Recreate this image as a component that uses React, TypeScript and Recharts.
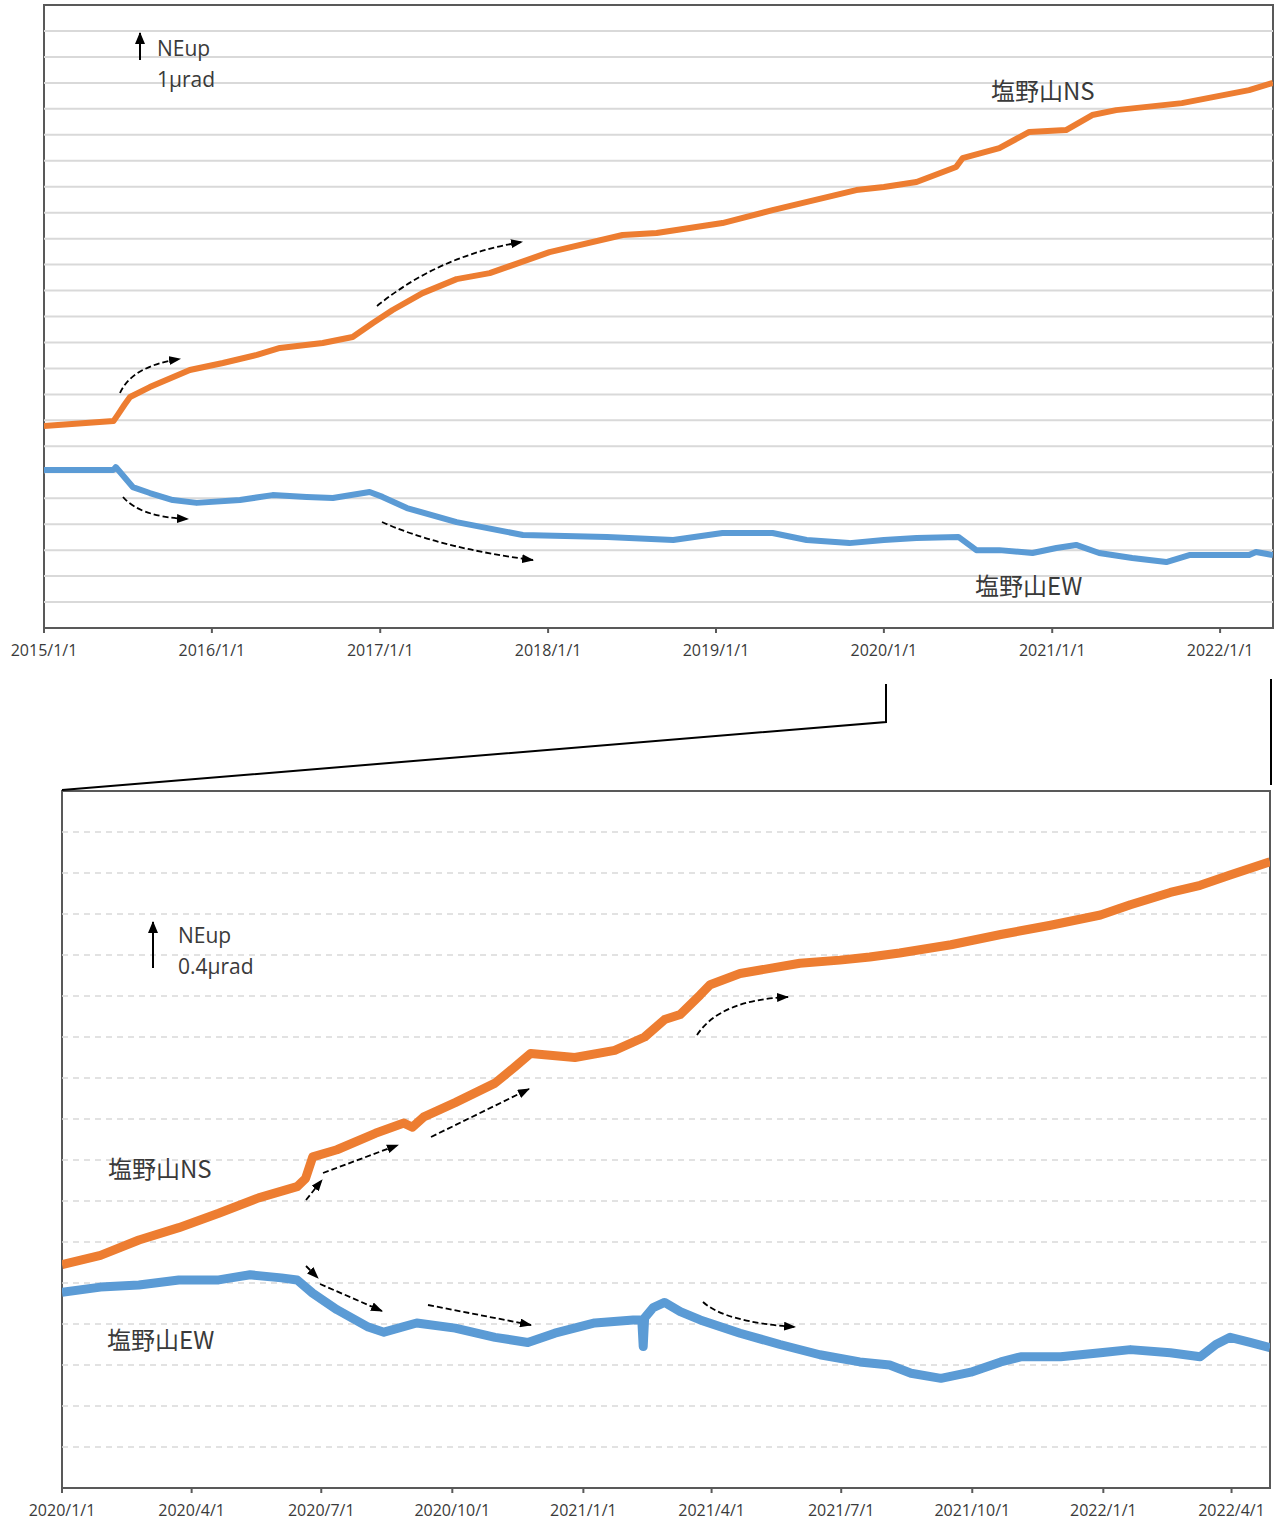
import { Line, LineChart, ReferenceArea, ReferenceLine, XAxis, YAxis } from 'recharts'

// 上段: 2015/1/1 〜 2022/4 (単位 μrad, 1目盛 = 1μrad)
const topNsDates = [
  '2015-01-01', '2015-06-01', '2015-06-10', '2015-06-25', '2015-07-07', '2015-08-19',
  '2015-11-14', '2016-01-25', '2016-04-08', '2016-05-28', '2016-08-29', '2016-11-02',
  '2016-12-16', '2017-01-28', '2017-04-03', '2017-06-16', '2017-08-27', '2018-01-04',
  '2018-06-12', '2018-08-25', '2019-01-15', '2019-05-04', '2019-11-02', '2020-01-01',
  '2020-03-12', '2020-06-06', '2020-06-20', '2020-09-08', '2020-11-12', '2021-01-31',
  '2021-03-29', '2021-05-20', '2021-10-10', '2022-03-05', '2022-04-26',
]
const topNsValues = [
  7.78, 7.97, 8.2, 8.6, 8.9, 9.28,
  9.94, 10.21, 10.52, 10.79, 10.98, 11.21,
  11.75, 12.25, 12.9, 13.44, 13.67, 14.48,
  15.14, 15.22, 15.6, 16.1, 16.87, 16.99,
  17.18, 17.76, 18.1, 18.49, 19.11, 19.18,
  19.76, 19.95, 20.22, 20.72, 21.0,
]
const topEwDates = [
  '2015-01-01', '2015-06-01', '2015-06-06', '2015-07-13', '2015-08-19', '2015-10-08',
  '2015-11-29', '2016-03-02', '2016-05-12', '2016-07-25', '2016-09-20', '2016-12-09',
  '2017-01-06', '2017-02-28', '2017-06-16', '2017-11-07', '2018-05-09', '2018-09-30',
  '2019-01-15', '2019-05-04', '2019-07-17', '2019-10-18', '2020-01-01', '2020-03-12',
  '2020-06-11', '2020-07-20', '2020-09-08', '2020-11-19', '2021-01-10', '2021-02-22',
  '2021-04-13', '2021-06-24', '2021-09-06', '2021-10-26', '2022-03-05', '2022-03-20',
  '2022-04-26',
]
const topEwValues = [
  6.09, 6.09, 6.2, 5.43, 5.2, 4.93,
  4.82, 4.93, 5.12, 5.05, 5.01, 5.24,
  5.05, 4.62, 4.08, 3.58, 3.51, 3.39,
  3.66, 3.66, 3.39, 3.27, 3.39, 3.47,
  3.51, 3.0, 3.0, 2.89, 3.08, 3.2,
  2.89, 2.7, 2.54, 2.81, 2.81, 2.93,
  2.81,
]
const topTicks = [
  '2015-01-01', '2016-01-01', '2017-01-01', '2018-01-01',
  '2019-01-01', '2020-01-01', '2021-01-01', '2022-01-01',
]

// 下段: 2020/1/1 〜 2022/4 (1目盛 = 0.4μrad)
const bottomNsDates = [
  '2020-01-01', '2020-01-28', '2020-02-24', '2020-03-23', '2020-04-20', '2020-05-18',
  '2020-06-14', '2020-06-20', '2020-06-25', '2020-07-12', '2020-08-08', '2020-08-28',
  '2020-09-03', '2020-09-11', '2020-10-03', '2020-10-31', '2020-11-14', '2020-11-25',
  '2020-12-26', '2021-01-23', '2021-02-13', '2021-02-27', '2021-03-10', '2021-03-24',
  '2021-03-31', '2021-04-21', '2021-05-12', '2021-06-02', '2021-06-30', '2021-07-21',
  '2021-08-11', '2021-09-16', '2021-10-21', '2021-11-25', '2021-12-30', '2022-01-20',
  '2022-02-17', '2022-03-10', '2022-03-31', '2022-04-28',
]
const bottomNsValues = [
  2.18, 2.27, 2.42, 2.54, 2.68, 2.83,
  2.94, 3.02, 3.23, 3.3, 3.46, 3.56,
  3.52, 3.62, 3.76, 3.95, 4.11, 4.24,
  4.2, 4.27, 4.4, 4.57, 4.62, 4.81,
  4.91, 5.02, 5.07, 5.12, 5.15, 5.18,
  5.22, 5.3, 5.4, 5.49, 5.59, 5.69,
  5.81, 5.88, 5.98, 6.11,
]
const bottomEwDates = [
  '2020-01-01', '2020-01-28', '2020-02-24', '2020-03-23', '2020-04-20', '2020-05-12',
  '2020-06-03', '2020-06-14', '2020-06-25', '2020-07-12', '2020-08-03', '2020-08-14',
  '2020-09-06', '2020-10-03', '2020-10-31', '2020-11-23', '2020-12-12', '2021-01-09',
  '2021-02-05', '2021-02-11', '2021-02-12', '2021-02-13', '2021-02-19', '2021-02-27',
  '2021-03-10', '2021-03-24', '2021-04-21', '2021-05-19', '2021-06-16', '2021-07-14',
  '2021-08-04', '2021-08-19', '2021-09-09', '2021-09-30', '2021-10-21', '2021-11-04',
  '2021-12-02', '2021-12-30', '2022-01-20', '2022-02-17', '2022-03-10', '2022-03-21',
  '2022-03-31', '2022-04-14', '2022-04-28',
]
const bottomEwValues = [
  1.91, 1.96, 1.98, 2.03, 2.03, 2.08,
  2.05, 2.03, 1.9, 1.74, 1.57, 1.52,
  1.61, 1.56, 1.47, 1.42, 1.51, 1.61,
  1.64, 1.64, 1.38, 1.66, 1.76, 1.81,
  1.72, 1.64, 1.51, 1.4, 1.3, 1.23,
  1.2, 1.12, 1.07, 1.13, 1.23, 1.28,
  1.28, 1.32, 1.35, 1.32, 1.28, 1.4,
  1.47, 1.42, 1.37,
]
const bottomTicks = [
  '2020-01-01', '2020-04-01', '2020-07-01', '2020-10-01', '2021-01-01',
  '2021-04-01', '2021-07-01', '2021-10-01', '2022-01-01', '2022-04-01',
]

const topYTicks = Array.from({ length: 25 }, (_, i) => i)
const bottomYTicks = Array.from({ length: 18 }, (_, i) => +(i * 0.4).toFixed(1))

const ORANGE = '#ED7D31'
const BLUE = '#5B9BD5'
const FRAME = '#595959'
const TEXT = '#3a3a3a'
const LATIN = '"Open Sans", "Noto Sans", sans-serif'
const CJK = '"Noto Sans CJK JP", "Noto Sans", sans-serif'

const toTime = (d: string) => Date.parse(d + 'T00:00:00Z')
const fmtDate = (v: number) => {
  const d = new Date(v)
  return `${d.getUTCFullYear()}/${d.getUTCMonth() + 1}/${d.getUTCDate()}`
}

type Row = { t: number; ns?: number; ew?: number }

function buildRows(
  nsDates: string[],
  nsValues: number[],
  ewDates: string[],
  ewValues: number[],
): Row[] {
  const rows = new Map<number, Row>()
  nsDates.forEach((d, i) => {
    const t = toTime(d)
    const r = rows.get(t) ?? { t }
    r.ns = nsValues[i]
    rows.set(t, r)
  })
  ewDates.forEach((d, i) => {
    const t = toTime(d)
    const r = rows.get(t) ?? { t }
    r.ew = ewValues[i]
    rows.set(t, r)
  })
  return [...rows.values()].sort((a, b) => a.t - b.t)
}

const topRows = buildRows(topNsDates, topNsValues, topEwDates, topEwValues)
const bottomRows = buildRows(bottomNsDates, bottomNsValues, bottomEwDates, bottomEwValues)

interface PanelProps {
  rows: Row[]
  start: string
  end: string
  ticks: string[]
  yTicks: number[]
  yMax: number
  width: number
  height: number
  margin: { top: number; right: number; bottom: number; left: number }
  dashed: boolean
  lineWidth: number
  tickMargin: number
}

function Panel({
  rows,
  start,
  end,
  ticks,
  yTicks,
  yMax,
  width,
  height,
  margin,
  dashed,
  lineWidth,
  tickMargin,
}: PanelProps) {
  const t0 = toTime(start)
  const t1 = toTime(end)
  return (
    <LineChart data={rows} height={height} margin={margin} width={width}>
      <XAxis
        allowDataOverflow
        axisLine={{ stroke: FRAME, strokeWidth: 2 }}
        dataKey="t"
        domain={[t0, t1]}
        height={30}
        interval={0}
        scale="linear"
        tick={{ fill: TEXT, fontFamily: LATIN, fontSize: 16 }}
        tickFormatter={fmtDate}
        tickLine={{ stroke: FRAME, strokeWidth: 2 }}
        tickMargin={tickMargin}
        tickSize={5}
        ticks={ticks.map(toTime)}
        type="number"
      />
      <YAxis
        axisLine={false}
        domain={[0, yMax]}
        tick={false}
        tickLine={false}
        ticks={yTicks}
        type="number"
        width={0}
      />
      {yTicks
        .filter((v) => v > 0 && v < yMax)
        .map((v) => (
          <ReferenceLine
            key={v}
            stroke="#d9d9d9"
            strokeDasharray={dashed ? '6 5' : undefined}
            strokeWidth={dashed ? 1.3 : 2}
            y={v}
          />
        ))}
      <Line
        connectNulls
        dataKey="ew"
        dot={false}
        isAnimationActive={false}
        stroke={BLUE}
        strokeLinejoin="round"
        strokeWidth={lineWidth}
        type="linear"
      />
      <Line
        connectNulls
        dataKey="ns"
        dot={false}
        isAnimationActive={false}
        stroke={ORANGE}
        strokeLinejoin="round"
        strokeWidth={lineWidth}
        type="linear"
      />
      <ReferenceArea
        fill="none"
        fillOpacity={0}
        ifOverflow="visible"
        stroke={FRAME}
        strokeWidth={2}
        x1={t0}
        x2={t1}
        y1={0}
        y2={yMax}
      />
    </LineChart>
  )
}

const dashStyle = {
  fill: 'none',
  stroke: '#000',
  strokeWidth: 1.8,
  strokeDasharray: '6 3',
  markerEnd: 'url(#ah)',
}

export default function App() {
  return (
    <div
      style={{
        position: 'absolute',
        left: 0,
        top: 0,
        width: 1277,
        height: 1521,
        background: '#fff',
      }}
    >
      <div style={{ position: 'absolute', left: 0, top: 0 }}>
        <Panel
          dashed={false}
          end="2022-04-26"
          height={680}
          lineWidth={6}
          margin={{ top: 5, right: 4, bottom: 22, left: 44 }}
          rows={topRows}
          start="2015-01-01"
          tickMargin={12}
          ticks={topTicks}
          width={1277}
          yMax={24}
          yTicks={topYTicks}
        />
      </div>
      <div style={{ position: 'absolute', left: 0, top: 760 }}>
        <Panel
          dashed
          end="2022-04-28"
          height={761}
          lineWidth={9}
          margin={{ top: 31, right: 7, bottom: 3, left: 62 }}
          rows={bottomRows}
          start="2020-01-01"
          tickMargin={12}
          ticks={bottomTicks}
          width={1277}
          yMax={6.8}
          yTicks={bottomYTicks}
        />
      </div>
      <svg
        height={1521}
        style={{ position: 'absolute', left: 0, top: 0, pointerEvents: 'none' }}
        width={1277}
      >
        <defs>
          <marker
            id="ah"
            markerHeight="9"
            markerUnits="userSpaceOnUse"
            markerWidth="12"
            orient="auto"
            refX="11"
            refY="4.5"
          >
            <path d="M0,0 L12,4.5 L0,9 z" fill="#000" />
          </marker>
          <marker
            id="up"
            markerHeight="10"
            markerUnits="userSpaceOnUse"
            markerWidth="12"
            orient="auto"
            refX="11"
            refY="5"
          >
            <path d="M0,0 L12,5 L0,10 z" fill="#000" />
          </marker>
        </defs>

        {/* 上段の注記 */}
        <line markerEnd="url(#up)" stroke="#000" strokeWidth={2} x1={140} x2={140} y1={60} y2={33} />
        <text fill={TEXT} fontFamily={LATIN} fontSize={21} x={157} y={56}>NEup</text>
        <text fill={TEXT} fontFamily={LATIN} fontSize={21} x={157} y={87}>1μrad</text>
        <text fill={TEXT} fontFamily={CJK} fontSize={24} x={991} y={100}>塩野山NS</text>
        <text fill={TEXT} fontFamily={CJK} fontSize={24} x={975} y={595}>塩野山EW</text>
        <path d="M120,393 Q132,366 180,359" style={dashStyle} />
        <path d="M377,306 Q440,255 522,242" style={dashStyle} />
        <path d="M123,497 Q140,517 188,519" style={dashStyle} />
        <path d="M382,522 Q440,548 533,560" style={dashStyle} />

        {/* 拡大範囲を示す線 */}
        <polyline fill="none" points="886,684 886,722 62,790" stroke="#000" strokeWidth={2} />
        <line stroke="#000" strokeWidth={2} x1={1271} x2={1271} y1={679} y2={785} />

        {/* 下段の注記 */}
        <line markerEnd="url(#up)" stroke="#000" strokeWidth={2} x1={153} x2={153} y1={968} y2={922} />
        <text fill={TEXT} fontFamily={LATIN} fontSize={21} x={178} y={943}>NEup</text>
        <text fill={TEXT} fontFamily={LATIN} fontSize={21} x={178} y={974}>0.4μrad</text>
        <text fill={TEXT} fontFamily={CJK} fontSize={24} x={108} y={1178}>塩野山NS</text>
        <text fill={TEXT} fontFamily={CJK} fontSize={24} x={107} y={1349}>塩野山EW</text>
        <path d="M306,1200 L322,1180" style={dashStyle} />
        <path d="M323,1173 L398,1145" style={dashStyle} />
        <path d="M431,1137 L529,1089" style={dashStyle} />
        <path d="M697,1035 Q720,1000 788,997" style={dashStyle} />
        <path d="M306,1266 L318,1278" style={dashStyle} />
        <path d="M320,1284 L382,1311" style={dashStyle} />
        <path d="M428,1305 L531,1325" style={dashStyle} />
        <path d="M703,1302 Q725,1322 795,1327" style={dashStyle} />
      </svg>
    </div>
  )
}
